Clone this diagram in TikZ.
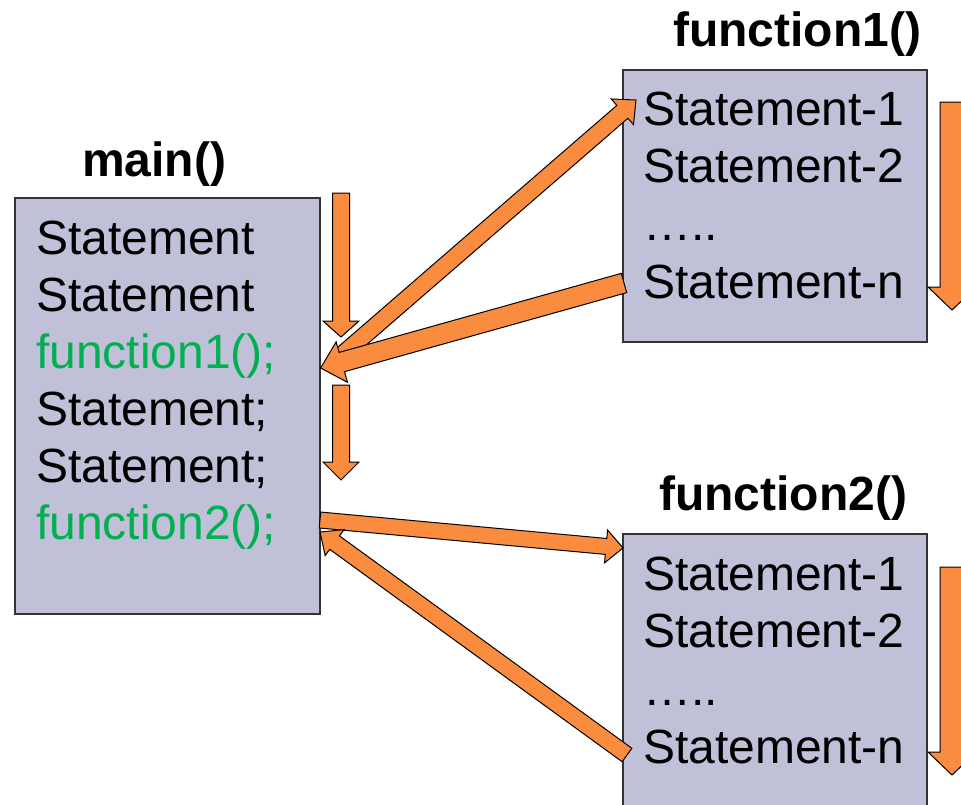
\documentclass[tikz,border=0pt]{standalone}
\usepackage{fontspec}
\setmainfont{Liberation Sans}
\usetikzlibrary{calc}

\definecolor{boxfill}{RGB}{192,192,216}
\definecolor{callorange}{RGB}{250,140,64}
\definecolor{callgreen}{RGB}{0,176,80}

\tikzset{
  codebox/.style={draw=black!80, line width=1.2pt, fill=boxfill, inner sep=0pt},
  codeline/.style={anchor=base west, inner sep=0pt, font=\fontsize{48}{57}\selectfont},
  titleline/.style={anchor=base, inner sep=0pt, font=\fontsize{48}{57}\selectfont\bfseries},
  callarrow/.style={draw=black, fill=callorange, line width=1pt, line join=miter}
}

% block arrow: from, to, half shaft, half head, head length
\newcommand{\blockarrow}[5]{%
  \filldraw[callarrow] let \p1=(#1), \p2=(#2),
      \n1={atan2(\y2-\y1,\x2-\x1)}, \n2={veclen(\x2-\x1,\y2-\y1)} in
    [shift={(\p1)}, rotate=\n1]
    (0,-#3) -- ({\n2-#5},-#3) -- ({\n2-#5},-#4) -- ({\n2},0)
    -- ({\n2-#5},#4) -- ({\n2-#5},#3) -- (0,#3) -- cycle;
}

\begin{document}
\begin{tikzpicture}[x=1pt,y=-1pt]
  \useasboundingbox (0,0) rectangle (961,804);
  \clip (0,0) rectangle (961,804);

  % boxes
  \node[codebox, minimum width=305pt, minimum height=416pt] (mainbox) at (167.5,406) {};
  \node[codebox, minimum width=304pt, minimum height=272pt] (f1box) at (775,206) {};
  \node[codebox, minimum width=304pt, minimum height=272pt] (f2box) at (775,670) {};

  % titles
  \node[titleline] (maintitle) at (154,176) {main()};
  \node[titleline] (f1title) at (797,46) {function1()};
  \node[titleline] (f2title) at (783,510) {function2()};

  % code lines
  \foreach \col/\txt [count=\i] in {black/Statement, black/Statement, callgreen/function1();,
      black/Statement;, black/Statement;, callgreen/function2();}
    \node[codeline, text=\col] (main\i) at (36,{254+57*(\i-1)}) {\txt};
  \foreach \f/\y in {f1/125, f2/590}
    \foreach \txt [count=\i] in {Statement-1, Statement-2, ….., Statement-n}
      \node[codeline] (\f l\i) at (643,{\y+57.7*(\i-1)}) {\txt};

  % arrow ends
  \coordinate (mflowA) at (341,193); \coordinate (mflowAend) at (341,337);
  \coordinate (mflowB) at (341,385); \coordinate (mflowBend) at (341,480);
  \coordinate (call1) at (336,360);  \coordinate (enter1) at (636,100);
  \coordinate (leave1) at (624,283); \coordinate (return1) at (mainbox.east |- main3.base);
  \coordinate (call2) at (320,520);  \coordinate (enter2) at (623,548);
  \coordinate (leave2) at (627,755); \coordinate (return2) at (320,532);
  \coordinate (fflow1) at (952,102); \coordinate (fflow1end) at (952,310);
  \coordinate (fflow2) at (952,567); \coordinate (fflow2end) at (952,775);

  % arrows
  \blockarrow{mflowA}{mflowAend}{8.5}{18}{16}
  \blockarrow{mflowB}{mflowBend}{8.5}{18}{18}
  \blockarrow{call1}{enter1}{8.5}{17}{18}
  \blockarrow{leave1}{return1}{10}{21}{22}
  \blockarrow{call2}{enter2}{8}{16.5}{17}
  \blockarrow{leave2}{return2}{8.3}{16}{18}
  \blockarrow{fflow1}{fflow1end}{12}{24}{23}
  \blockarrow{fflow2}{fflow2end}{12}{24}{23}
\end{tikzpicture}
\end{document}
